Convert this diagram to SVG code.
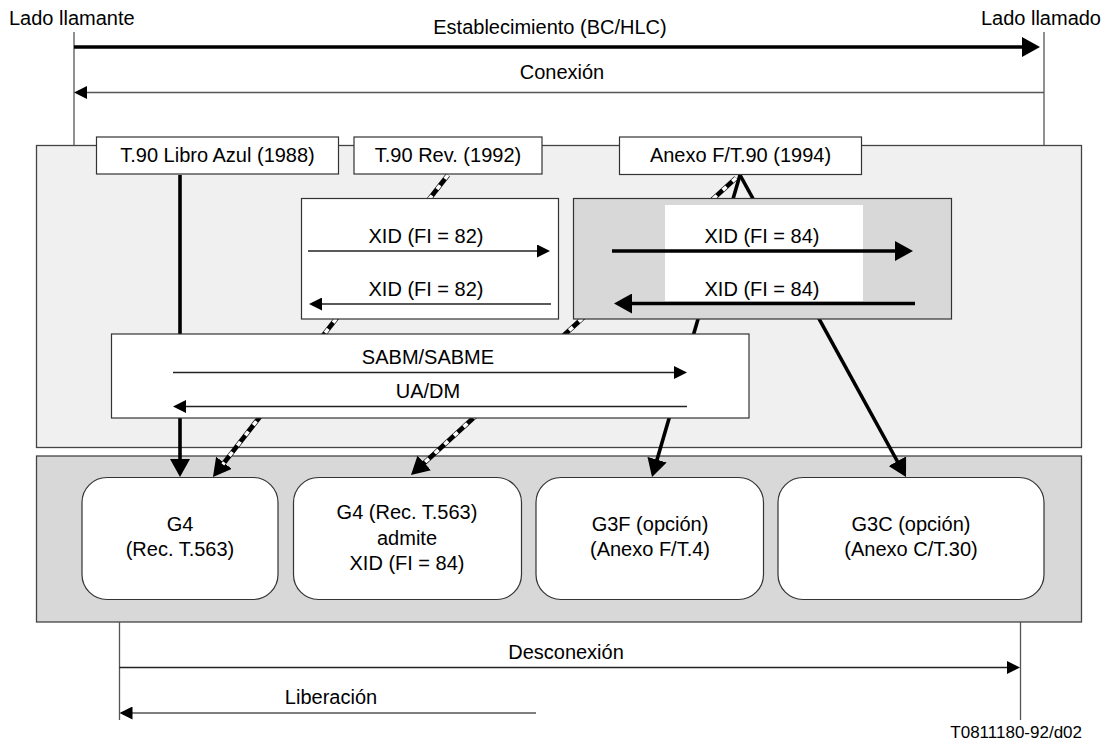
<svg xmlns="http://www.w3.org/2000/svg" width="1110" height="742" viewBox="0 0 1110 742">
<defs>
<style>
text{font-family:"Liberation Sans",Arial,sans-serif;font-size:20px;fill:#000}
.c{text-anchor:middle}
.panel{stroke:#444;stroke-width:1.3}
.box{fill:#fff;stroke:#333;stroke-width:1.2}
.thin{stroke:#222;stroke-width:1.3;fill:none}
.guide{stroke:#555;stroke-width:1.3;fill:none}
.thick{stroke:#000;stroke-width:3.6;fill:none}
.dashbg{stroke:#000;stroke-width:4.8;fill:none}
.dashfg{stroke:#fff;stroke-width:3.6;stroke-dasharray:5 8;fill:none}
</style>
<marker id="ah" markerUnits="userSpaceOnUse" markerWidth="13" markerHeight="13" refX="2" refY="6.5" orient="auto" viewBox="0 0 13 13">
<path d="M0,0 L13,6.5 L0,13 z" fill="#000"/>
</marker>
<marker id="AH" markerUnits="userSpaceOnUse" markerWidth="18" markerHeight="20" refX="2" refY="10" orient="auto" viewBox="0 0 18 20">
<path d="M0,0 L18,10 L0,20 z" fill="#000"/>
</marker>
</defs>

<rect width="1110" height="742" fill="#fff"/>

<!-- panels -->
<g id="panel-top"><rect class="panel" x="36.5" y="145.5" width="1045" height="302" fill="#f0f0f0"/></g>
<g id="panel-bottom"><rect class="panel" x="36.5" y="456" width="1045" height="166" fill="#d8d8d8"/></g>

<!-- side labels and guides -->
<g id="side-labels">
<text x="9" y="25">Lado llamante</text>
<text x="1101" y="25" text-anchor="end">Lado llamado</text>
<line class="guide" x1="74" y1="32" x2="74" y2="145.5"/>
<line class="guide" x1="1044" y1="32" x2="1044" y2="145.5"/>
<line class="guide" x1="119.5" y1="622" x2="119.5" y2="720"/>
<line class="guide" x1="1020.5" y1="622" x2="1020.5" y2="720"/>
<text x="1082" y="738" text-anchor="end" style="font-size:17px">T0811180-92/d02</text>
</g>

<!-- connectors -->
<g id="connectors">
<line class="thick" x1="180" y1="175" x2="180" y2="461" marker-end="url(#AH)"/>
<line class="thick" x1="740" y1="175" x2="656.5" y2="461.6" marker-end="url(#AH)"/>
<line class="thick" x1="740" y1="175" x2="898.3" y2="463" marker-end="url(#AH)"/>
<line class="dashbg" x1="448" y1="175" x2="222.8" y2="464.4" marker-end="url(#AH)"/>
<line class="dashfg" x1="448" y1="175" x2="222.8" y2="464.4"/>
<line class="dashbg" x1="736" y1="178" x2="422.8" y2="464.2" marker-end="url(#AH)"/>
<line class="dashfg" x1="736" y1="178" x2="422.8" y2="464.2"/>
</g>

<!-- nodes -->
<g id="node-t90-libro">
<rect class="box" x="96.5" y="137" width="242" height="37"/>
<text class="c" x="217.5" y="162">T.90 Libro Azul (1988)</text>
</g>
<g id="node-t90-rev">
<rect class="box" x="354" y="137" width="188" height="37"/>
<text class="c" x="448" y="162">T.90 Rev. (1992)</text>
</g>
<g id="node-anexo-f">
<rect class="box" x="619.5" y="137" width="242" height="37.5"/>
<text class="c" x="740.5" y="162">Anexo F/T.90 (1994)</text>
</g>
<g id="node-xid82">
<rect class="box" x="301.5" y="198.5" width="257" height="120.5"/>
<text class="c" x="426" y="243">XID (FI = 82)</text>
<text class="c" x="426" y="296">XID (FI = 82)</text>
</g>
<g id="node-xid84">
<rect x="573.5" y="198.5" width="378" height="120.5" fill="#d8d8d8" stroke="#333" stroke-width="1.2"/>
<rect x="665" y="205" width="198" height="96" fill="#fff"/>
<text class="c" x="762" y="243">XID (FI = 84)</text>
<text class="c" x="762" y="296">XID (FI = 84)</text>
</g>
<g id="node-sabm">
<rect class="box" x="111.5" y="334" width="637.5" height="84"/>
<text class="c" x="428" y="364">SABM/SABME</text>
<text class="c" x="428" y="398">UA/DM</text>
</g>
<g id="node-g4">
<rect class="box" x="82" y="477.5" width="196" height="122" rx="25" ry="25"/>
<text class="c" x="180" y="531">G4</text>
<text class="c" x="180" y="556">(Rec. T.563)</text>
</g>
<g id="node-g4-xid">
<rect class="box" x="293.5" y="477.5" width="228" height="122" rx="25" ry="25"/>
<text class="c" x="407" y="519">G4 (Rec. T.563)</text>
<text class="c" x="407" y="545">admite</text>
<text class="c" x="407" y="570">XID (FI = 84)</text>
</g>
<g id="node-g3f">
<rect class="box" x="536" y="477.5" width="227.5" height="122" rx="25" ry="25"/>
<text class="c" x="650" y="531">G3F (opción)</text>
<text class="c" x="650" y="556">(Anexo F/T.4)</text>
</g>
<g id="node-g3c">
<rect class="box" x="778" y="477.5" width="266" height="122" rx="25" ry="25"/>
<text class="c" x="911" y="531">G3C (opción)</text>
<text class="c" x="911" y="556">(Anexo C/T.30)</text>
</g>

<!-- message arrows -->
<g id="messages">
<line class="thick" x1="74" y1="47" x2="1024" y2="47" marker-end="url(#AH)"/>
<text class="c" x="550" y="34">Establecimiento (BC/HLC)</text>
<line class="guide" x1="1044" y1="92.5" x2="85" y2="92.5" marker-end="url(#ah)"/>
<text class="c" x="562" y="79">Conexión</text>
<line class="thin" x1="308" y1="251" x2="539" y2="251" marker-end="url(#ah)"/>
<line class="thin" x1="551" y1="304" x2="320" y2="304" marker-end="url(#ah)"/>
<line class="thick" x1="612" y1="251" x2="897" y2="251" marker-end="url(#AH)"/>
<line class="thick" x1="915" y1="303.5" x2="630" y2="303.5" marker-end="url(#AH)"/>
<line class="thin" x1="173" y1="372.5" x2="676" y2="372.5" marker-end="url(#ah)"/>
<line class="thin" x1="687" y1="406.5" x2="184" y2="406.5" marker-end="url(#ah)"/>
<line class="thin" x1="119.5" y1="667.5" x2="1009" y2="667.5" marker-end="url(#ah)"/>
<text class="c" x="566" y="659">Desconexión</text>
<line class="guide" x1="536" y1="713" x2="130.5" y2="713" marker-end="url(#ah)"/>
<text class="c" x="331" y="704">Liberación</text>
</g>
</svg>
